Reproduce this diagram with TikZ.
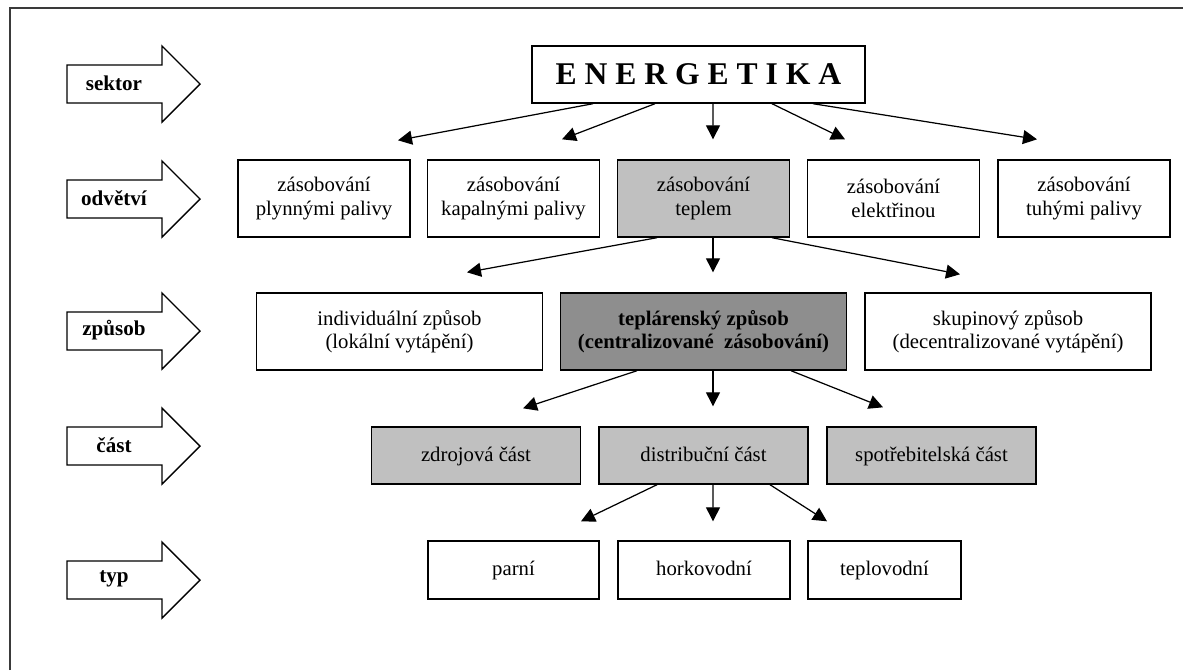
\documentclass[tikz,border=0pt]{standalone}
\usepackage{fontspec}
\setmainfont{Liberation Serif}
\usetikzlibrary{arrows.meta}
\definecolor{partgray}{HTML}{C0C0C0}
\definecolor{waygray}{HTML}{8E8E8E}
\definecolor{framegray}{HTML}{3A3A3A}

\tikzset{
  box/.style={draw, line width=0.8pt, align=center, inner sep=0pt, font=\fontsize{11.8}{13.4}\selectfont},
  branch/.style={box, minimum width=3.44cm, minimum height=1.54cm},
  waybox/.style={box, minimum width=5.72cm, minimum height=1.54cm},
  partbox/.style={box, minimum width=4.18cm, minimum height=1.14cm, fill=partgray, text height=1.9ex, text depth=0.5ex},
  kindbox/.style={box, minimum height=1.16cm, text height=1.9ex, text depth=0.5ex},
  link/.style={-{Triangle[length=0.28cm,width=0.28cm]}, line width=0.7pt},
  levelarrow/.style={draw, line width=0.8pt, fill=white},
  levellabel/.style={font=\bfseries\fontsize{12}{14}\selectfont}
}

\begin{document}
\begin{tikzpicture}[x=0.02cm, y=-0.02cm]
\useasboundingbox (0,0) rectangle (1183,670);

% Frame (top and left edge only)
\draw[framegray, line width=1.2pt] (10,670) -- (10,8) -- (1183,8);

% Level arrows on the left
\draw[levelarrow] (67,65) -- (162,65) -- (162,46) -- (200,84) -- (162,122) -- (162,103) -- (67,103) -- cycle;
\node[levellabel] (sektor) at (114,83) {sektor};
\draw[levelarrow] (67,180) -- (162,180) -- (162,161) -- (200,199) -- (162,237) -- (162,218) -- (67,218) -- cycle;
\node[levellabel] (odvetvi) at (114,198) {odvětví};
\draw[levelarrow] (67,312) -- (162,312) -- (162,293) -- (200,331) -- (162,369) -- (162,350) -- (67,350) -- cycle;
\node[levellabel] (zpusob) at (114,330) {způsob};
\draw[levelarrow] (67,427) -- (162,427) -- (162,408) -- (200,446) -- (162,484) -- (162,465) -- (67,465) -- cycle;
\node[levellabel] (cast) at (114,445) {část};
\draw[levelarrow] (67,561) -- (162,561) -- (162,542) -- (200,580) -- (162,618) -- (162,599) -- (67,599) -- cycle;
\node[levellabel] (typ) at (114,579) {typ};

% Sector
\node[box, minimum width=6.66cm, minimum height=1.14cm, font=\bfseries\fontsize{18}{21}\selectfont] (ener) at (698.5,74.5) {E N E R G E T I K A};

% Branches
\node[branch] (plyn) at (324,198.5) {zásobování\\plynnými palivy};
\node[branch] (kapal) at (513.5,198.5) {zásobování\\kapalnými palivy};
\node[branch, fill=partgray] (teplo) at (703.5,198.5) {zásobování\\teplem};
\node[branch] (elektr) at (893.5,198.5) {zásobování\\elektřinou};
\node[branch] (tuhe) at (1084,198.5) {zásobování\\tuhými palivy};

% Ways of supply
\node[waybox] (indiv) at (399.5,331.5) {individuální způsob\\(lokální vytápění)};
\node[waybox, fill=waygray, font=\bfseries\fontsize{11.8}{13.4}\selectfont] (teplar) at (703.5,331.5) {teplárenský způsob\\(centralizované\ \ zásobování)};
\node[waybox] (skup) at (1008,331.5) {skupinový způsob\\(decentralizované vytápění)};

% Parts
\node[partbox] (zdroj) at (476,455.5) {zdrojová část};
\node[partbox] (distr) at (703.5,455.5) {distribuční část};
\node[partbox] (spotr) at (931.5,455.5) {spotřebitelská část};

% Types
\node[kindbox, minimum width=3.42cm] (parni) at (513.5,570) {parní};
\node[kindbox, minimum width=3.44cm] (horko) at (704,570) {horkovodní};
\node[kindbox, minimum width=3.06cm] (teplov) at (884.5,570) {teplovodní};

% Sector -> branches
\draw[link] ([xshift=-2.11cm]ener.south) -- ([xshift=1.48cm,yshift=0.38cm]plyn.north);
\draw[link] ([xshift=-0.87cm]ener.south) -- ([xshift=0.97cm,yshift=0.4cm]kapal.north);
\draw[link] ([xshift=0.29cm]ener.south) -- ([xshift=0.19cm,yshift=0.4cm]teplo.north);
\draw[link] ([xshift=1.47cm]ener.south) -- ([xshift=-0.97cm,yshift=0.4cm]elektr.north);
\draw[link] ([xshift=2.29cm]ener.south) -- ([xshift=-0.94cm,yshift=0.4cm]tuhe.north);

% Heat supply -> ways
\draw[link] ([xshift=-0.93cm]teplo.south) -- ([xshift=1.35cm,yshift=0.4cm]indiv.north);
\draw[link] ([xshift=0.19cm]teplo.south) -- ([xshift=0.19cm,yshift=0.4cm]teplar.north);
\draw[link] ([xshift=1.37cm]teplo.south) -- ([xshift=-0.96cm,yshift=0.36cm]skup.north);

% Central supply -> parts
\draw[link] ([xshift=-1.33cm]teplar.south) -- ([xshift=0.94cm,yshift=0.36cm]zdroj.north);
\draw[link] ([xshift=0.19cm]teplar.south) -- ([xshift=0.19cm,yshift=0.4cm]distr.north);
\draw[link] ([xshift=1.75cm]teplar.south) -- ([xshift=-0.97cm,yshift=0.38cm]spotr.north);

% Distribution -> types
\draw[link] ([xshift=-0.93cm]distr.south) -- ([xshift=1.35cm,yshift=0.38cm]parni.north);
\draw[link] ([xshift=0.19cm]distr.south) -- ([xshift=0.18cm,yshift=0.38cm]horko.north);
\draw[link] ([xshift=1.33cm]distr.south) -- ([xshift=-1.15cm,yshift=0.38cm]teplov.north);
\end{tikzpicture}
\end{document}
